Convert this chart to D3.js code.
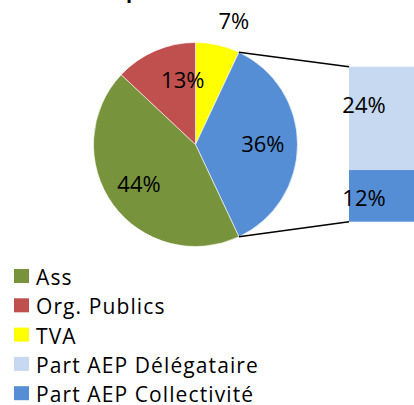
<!DOCTYPE html>
<html>
<head>
<meta charset="utf-8">
<script src="https://cdn.jsdelivr.net/npm/d3@7"></script>
<style>
  html, body { margin: 0; padding: 0; background: #fff; }
  svg { display: block; }
  text { font-family: "Open Sans", "Noto Sans", sans-serif; fill: #000; }
</style>
</head>
<body>
<svg id="chart" width="414" height="405"></svg>
<script>
// Répartition du prix — pie with a secondary stacked bar for the AEP share
const categories = ["Ass", "Org. Publics", "TVA", "Part AEP Délégataire", "Part AEP Collectivité"];
const values = [44, 13, 7, 24, 12];
const colors = ["#77933C", "#C0504D", "#FFFF00", "#C6D9F1", "#558ED5"];
const pieOrder = ["TVA", "AEP", "Ass", "Org. Publics"];   // clockwise from 12 o'clock
const barOrder = ["Part AEP Collectivité", "Part AEP Délégataire"]; // bottom to top

const byName = new Map(categories.map((c, i) => [c, { name: c, value: values[i], color: colors[i] }]));
const aepTotal = d3.sum(barOrder, n => byName.get(n).value);
byName.set("AEP", { name: "AEP", value: aepTotal, color: byName.get("Part AEP Collectivité").color });

const svg = d3.select("#chart");

// title (mostly above the visible area)
svg.append("text")
  .attr("x", 126).attr("y", -2)
  .attr("font-size", 20).attr("font-weight", "bold")
  .text("p");

// ---- main pie ----
const cx = 195.5, cy = 144.5, R = 102;
const pie = d3.pie().sort(null).value(d => d.value);
const arcs = pie(pieOrder.map(n => byName.get(n)));
const arc = d3.arc().innerRadius(0).outerRadius(R);

const g = svg.append("g").attr("transform", `translate(${cx},${cy})`);
g.selectAll("path").data(arcs).join("path")
  .attr("d", arc)
  .attr("fill", d => d.data.color)
  .attr("stroke", "#fff")
  .attr("stroke-width", 0.6);

// label placement: inside at ~0.66R, small slices nudged / placed outside
const labelArc = d3.arc().innerRadius(R * 0.66).outerRadius(R * 0.66);
const outerArc = d3.arc().innerRadius(R * 1.27).outerRadius(R * 1.27);
const nudge = { "TVA": [10, 3], "Org. Publics": [14, -3], "AEP": [0, 0], "Ass": [-2, 0] };
g.selectAll("text.pct").data(arcs).join("text")
  .attr("class", "pct")
  .attr("font-size", 22)
  .attr("text-anchor", "middle")
  .attr("dy", "0.36em")
  .attr("transform", d => {
    const p = d.data.name === "TVA" ? outerArc.centroid(d) : labelArc.centroid(d);
    const n = nudge[d.data.name];
    return `translate(${p[0] + n[0]},${p[1] + n[1]})`;
  })
  .text(d => d.data.value + "%");

// ---- secondary bar ----
const barX = 349, barW = 80;
const y = d3.scaleLinear().domain([0, aepTotal]).range([221.7, 66.7]);
let acc = 0;
const stack = barOrder.map(n => {
  const d = byName.get(n);
  const s = { ...d, y0: acc, y1: acc + d.value };
  acc += d.value;
  return s;
});
svg.selectAll("rect.seg").data(stack).join("rect")
  .attr("class", "seg")
  .attr("x", barX).attr("width", barW)
  .attr("y", d => y(d.y1))
  .attr("height", d => y(d.y0) - y(d.y1))
  .attr("fill", d => d.color);

const barNudge = { "Part AEP Délégataire": -13, "Part AEP Collectivité": 2 };
svg.selectAll("text.bar").data(stack).join("text")
  .attr("class", "bar")
  .attr("font-size", 22)
  .attr("text-anchor", "middle")
  .attr("dy", "0.36em")
  .attr("x", barX + 15)
  .attr("y", d => y((d.y0 + d.y1) / 2) + barNudge[d.name])
  .text(d => d.value + "%");

// connector lines from the AEP slice edges to the bar
const aepArc = arcs.find(d => d.data.name === "AEP");
const edge = a => [cx + R * Math.sin(a), cy - R * Math.cos(a)];
const pStart = edge(aepArc.startAngle), pEnd = edge(aepArc.endAngle);
svg.append("line")
  .attr("x1", pStart[0]).attr("y1", pStart[1])
  .attr("x2", barX).attr("y2", y(aepTotal))
  .attr("stroke", "#000").attr("stroke-width", 1.6);
svg.append("line")
  .attr("x1", pEnd[0]).attr("y1", pEnd[1])
  .attr("x2", barX).attr("y2", y(0))
  .attr("stroke", "#000").attr("stroke-width", 1.6);

// ---- legend ----
const legend = svg.append("g").attr("transform", "translate(14,269)");
const rows = legend.selectAll("g").data(categories).join("g")
  .attr("transform", (d, i) => `translate(0,${i * 29.3})`);
rows.append("rect")
  .attr("width", 15).attr("height", 14)
  .attr("fill", d => byName.get(d).color);
rows.append("text")
  .attr("x", 22).attr("y", 16)
  .attr("font-size", 21)
  .attr("letter-spacing", 1.1)
  .text(d => d);
</script>
</body>
</html>
